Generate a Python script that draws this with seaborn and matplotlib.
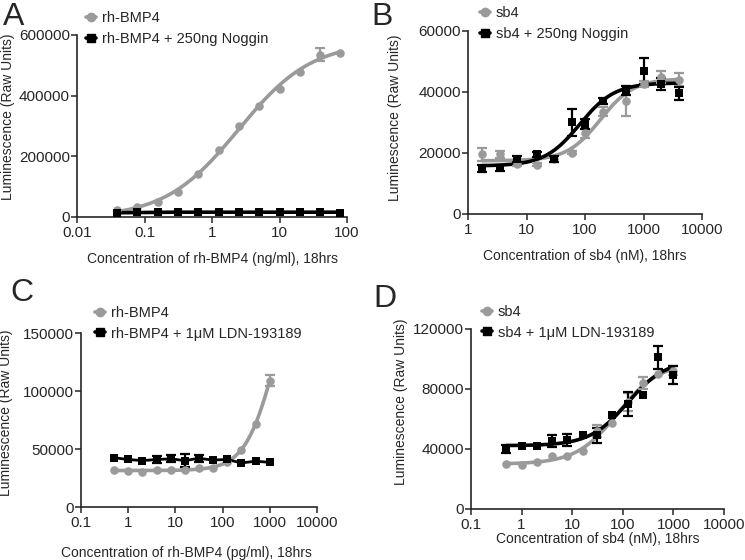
import numpy as np
import pandas as pd
import matplotlib
matplotlib.use('Agg')
import matplotlib.pyplot as plt
import seaborn as sns
from matplotlib.lines import Line2D

sns.set_style('ticks')
plt.rcParams['font.family'] = ['Liberation Sans', 'DejaVu Sans']

# Panel A: rh-BMP4 (ng/ml) with / without Noggin
A_conc = [0.039, 0.078, 0.156, 0.3125, 0.625, 1.25, 2.5, 5, 10, 20, 40, 80]
A_bmp4 = [24000, 33000, 48000, 82000, 141000, 221000, 300000, 367000, 423000, 479000, 535000, 542000]
A_bmp4_err = [0, 0, 0, 0, 0, 0, 0, 0, 0, 0, 22000, 0]
A_noggin = [14000, 15000, 16000, 16000, 16000, 16500, 16500, 16500, 16000, 16000, 15000, 14000]
A_noggin_err = [0] * 12

# Panel B: sb4 (nM) with / without Noggin
B_conc = [1.75, 3.5, 7, 15, 30, 60, 100, 200, 500, 1000, 2000, 4000]
B_sb4 = [19500, 19500, 16500, 16200, 18000, 20000, 26500, 33500, 37000, 42500, 45000, 44000]
B_sb4_err = [2200, 1000, 800, 500, 1000, 500, 1500, 1500, 5000, 1000, 2000, 2200]
B_noggin = [15000, 15000, 18000, 19500, 18000, 30000, 29500, 37000, 40500, 47000, 42500, 39500]
B_noggin_err = [1200, 1000, 1000, 800, 1000, 4300, 1500, 1000, 1500, 4300, 2000, 2000]

# Panel C: rh-BMP4 (pg/ml) with / without LDN-193189
C_conc = [0.5, 1, 2, 4, 8, 16, 31, 62, 125, 250, 500, 1000]
C_bmp4 = [32000, 31000, 30000, 32000, 31500, 32000, 34000, 34000, 39000, 49500, 72000, 109000]
C_bmp4_err = [0, 0, 0, 0, 0, 0, 0, 0, 0, 0, 0, 5000]
C_ldn = [42500, 41000, 40000, 41000, 41500, 40000, 42000, 40500, 41000, 38000, 39500, 38500]
C_ldn_err = [0, 0, 0, 3000, 3000, 5500, 3000, 0, 0, 0, 0, 0]

# Panel D: sb4 (nM) with / without LDN-193189
D_conc = [0.5, 1, 2, 4, 8, 16, 31, 62, 125, 250, 500, 1000]
D_sb4 = [30000, 29500, 31000, 35000, 35000, 38500, 52000, 57000, 71000, 84000, 90000, 92000]
D_sb4_err = [0, 0, 0, 0, 0, 0, 4000, 0, 6000, 4000, 0, 3000]
D_ldn = [40000, 42000, 42000, 45000, 46000, 49000, 49000, 62500, 70000, 76000, 101000, 89000]
D_ldn_err = [2500, 0, 0, 4000, 4000, 0, 5000, 0, 8000, 0, 7500, 6000]

GRAY = '#9a9a9a'
BLACK = '#000000'


def fit_4pl(x, y):
    # crude 4-parameter logistic fit: grid over EC50/hill, linear solve for bottom/top
    x = np.asarray(x, float)
    y = np.asarray(y, float)
    best = None
    for lec in np.linspace(np.log10(x.min()) - 1, np.log10(x.max()) + 1.5, 300):
        for h in np.linspace(0.4, 3.0, 80):
            s = 1.0 / (1.0 + (10 ** lec / x) ** h)
            A = np.column_stack([np.ones_like(s), s])
            coef, *_ = np.linalg.lstsq(A, y, rcond=None)
            sse = np.sum((A @ coef - y) ** 2)
            if best is None or sse < best[0]:
                best = (sse, coef, lec, h)
    _, coef, lec, h = best
    xs = np.logspace(np.log10(x.min()), np.log10(x.max()), 200)
    ys = coef[0] + coef[1] / (1.0 + (10 ** lec / xs) ** h)
    return xs, ys


def draw_series(ax, conc, vals, err, color, marker, fitted=True):
    df = pd.DataFrame({'conc': conc, 'value': vals})
    if fitted:
        xs, ys = fit_4pl(conc, vals)
        sns.lineplot(x=xs, y=ys, ax=ax, color=color, lw=2.6, zorder=2)
    else:
        sns.lineplot(data=df, x='conc', y='value', ax=ax, color=color, lw=2.0, zorder=2)
    e = np.asarray(err, float)
    if e.any():
        ax.errorbar(conc, vals, yerr=np.where(e > 0, e, np.nan), fmt='none', ecolor=color,
                    elinewidth=1.6, capsize=3.5, capthick=1.6, zorder=3)
    sns.scatterplot(data=df, x='conc', y='value', ax=ax, color=color, marker=marker,
                    s=38, edgecolor=color, linewidth=0, zorder=4)


def style_axes(ax, xlim, xticks, xticklabels, ylim, yticks, xlabel, xlab_pos, ylab_pos):
    ax.set_xscale('log')
    ax.set_xlim(*xlim)
    ax.set_ylim(*ylim)
    ax.set_xticks(xticks)
    ax.set_xticklabels(xticklabels)
    ax.xaxis.set_minor_locator(matplotlib.ticker.NullLocator())
    ax.set_yticks(yticks)
    ax.set_yticklabels([str(v) for v in yticks])
    ax.tick_params(labelsize=11, length=4, width=1.1, pad=1)
    ax.tick_params(axis='x', pad=2.5)
    for sp in ['left', 'bottom']:
        ax.spines[sp].set_linewidth(1.2)
    sns.despine(ax=ax)
    ax.set_xlabel(xlabel, fontsize=10)
    ax.set_ylabel('Luminescence (Raw Units)', fontsize=10)
    ax.xaxis.set_label_coords(*xlab_pos)
    ax.yaxis.set_label_coords(*ylab_pos)


def add_legend(fig, labels, pos):
    handles = [Line2D([], [], color=GRAY, marker='o', lw=2.6, markersize=6),
               Line2D([], [], color=BLACK, marker='s', lw=2.6, markersize=6)]
    fig.legend(handles, labels, loc='upper left', bbox_to_anchor=pos, frameon=False,
               fontsize=10.5, handlelength=0.7, handletextpad=0.4, borderpad=0,
               borderaxespad=0, labelspacing=0.45)


fig = plt.figure(figsize=(7.45, 5.6), dpi=100)
axA = fig.add_axes([0.1034, 0.6125, 0.3624, 0.325])
axB = fig.add_axes([0.6282, 0.6179, 0.3141, 0.3268])
axC = fig.add_axes([0.1087, 0.0946, 0.3168, 0.3107])
axD = fig.add_axes([0.6322, 0.0911, 0.3396, 0.3214])

# A
draw_series(axA, A_conc, A_bmp4, A_bmp4_err, GRAY, 'o')
draw_series(axA, A_conc, A_noggin, A_noggin_err, BLACK, 's')
style_axes(axA, (0.01, 100), [0.01, 0.1, 1, 10, 100], ['0.01', '0.1', '1', '10', '100'],
           (0, 600000), [0, 200000, 400000, 600000],
           'Concentration of rh-BMP4 (ng/ml), 18hrs', (0.5, -0.19), (-0.23, 0.55))
add_legend(fig, ['rh-BMP4', 'rh-BMP4 + 250ng Noggin'], (0.1154, 0.980))

# B
draw_series(axB, B_conc, B_sb4, B_sb4_err, GRAY, 'o')
draw_series(axB, B_conc, B_noggin, B_noggin_err, BLACK, 's')
style_axes(axB, (1, 10000), [1, 10, 100, 1000, 10000], ['1', '10', '100', '1000', '10000'],
           (0, 60000), [0, 20000, 40000, 60000],
           'Concentration of sb4 (nM), 18hrs', (0.5, -0.19), (-0.28, 0.525))
add_legend(fig, ['sb4', 'sb4 + 250ng Noggin'], (0.644, 0.989))

# C
draw_series(axC, C_conc, C_bmp4, C_bmp4_err, GRAY, 'o')
draw_series(axC, C_conc, C_ldn, C_ldn_err, BLACK, 's', fitted=False)
style_axes(axC, (0.1, 10000), [0.1, 1, 10, 100, 1000, 10000],
           ['0.1', '1', '10', '100', '1000', '10000'],
           (0, 150000), [0, 50000, 100000, 150000],
           'Concentration of rh-BMP4 (pg/ml), 18hrs', (0.445, -0.225), (-0.29, 0.54))
add_legend(fig, ['rh-BMP4', 'rh-BMP4 + 1\u03bcM LDN-193189'], (0.1275, 0.4536))

# D
draw_series(axD, D_conc, D_sb4, D_sb4_err, GRAY, 'o')
draw_series(axD, D_conc, D_ldn, D_ldn_err, BLACK, 's')
style_axes(axD, (0.1, 10000), [0.1, 1, 10, 100, 1000, 10000],
           ['0.1', '1', '10', '100', '1000', '10000'],
           (0, 120000), [0, 40000, 80000, 120000],
           'Concentration of sb4 (nM), 18hrs', (0.5, -0.13), (-0.25, 0.594))
add_legend(fig, ['sb4', 'sb4 + 1\u03bcM LDN-193189'], (0.647, 0.4554))

# panel letters
for x, y, s in [(0.004, 0.997, 'A'), (0.498, 0.997, 'B'), (0.014, 0.503, 'C'), (0.501, 0.493, 'D')]:
    fig.text(x, y, s, fontsize=23, ha='left', va='top')

fig.savefig('out.png', dpi=100)
